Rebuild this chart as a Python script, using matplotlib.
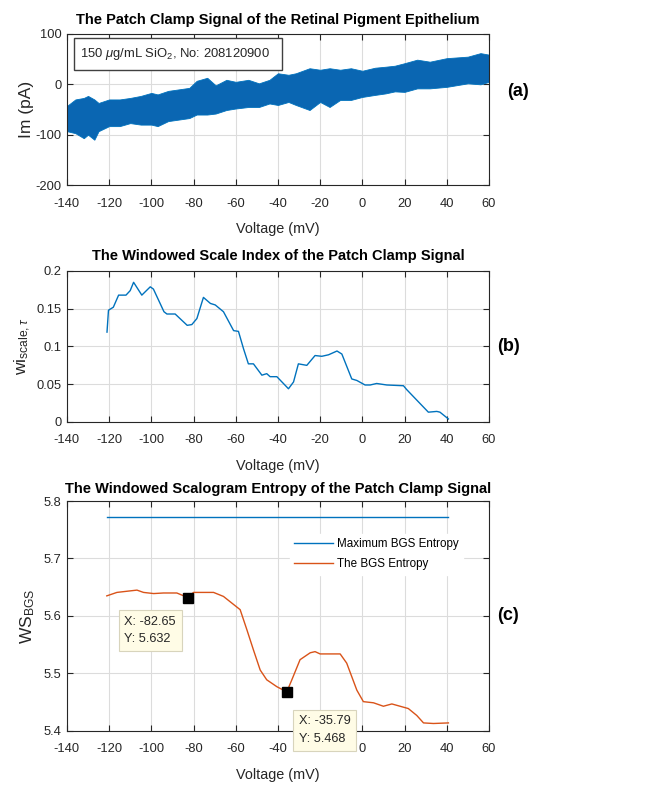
import numpy as np
import matplotlib
matplotlib.use('Agg')
import matplotlib.pyplot as plt
from matplotlib import font_manager
from matplotlib.patches import Rectangle

# narrow face if present, otherwise plain Liberation Sans at reduced size
try:
    font_manager.findfont('Liberation Sans Narrow', fallback_to_default=False)
    face, k = 'Liberation Sans Narrow', 1 / 0.82
except ValueError:
    face, k = 'Liberation Sans', 1.0

plt.rcParams['font.family'] = [face, 'Liberation Sans', 'DejaVu Sans']
plt.rcParams['axes.unicode_minus'] = False
plt.rcParams['mathtext.fontset'] = 'custom'
plt.rcParams['mathtext.rm'] = face
plt.rcParams['mathtext.it'] = face + ':italic'
plt.rcParams['mathtext.bf'] = face + ':bold'

# (a) patch clamp current, upper / lower envelope of the recorded trace
volt_a = [-140, -136, -132, -130, -127, -125, -120, -115, -110, -105, -100, -97,
          -92, -87, -82, -78.5, -73.5, -69.5, -64.4, -60, -54, -49, -44, -40,
          -35, -31.5, -25, -20, -15.5, -10.5, -5.4, 0, 6, 11, 15.4, 20, 26, 32,
          40, 50, 56, 60]
im_upper = [-43, -30, -27, -23, -30, -37, -30, -30, -27, -23, -17, -20,
            -13, -10, -7, 7, 13, -2, 9, 5, 9, 2, 9, 22,
            19, 22, 32, 29, 32, 29, 32, 27, 33, 35, 37, 42, 49, 45,
            52, 55, 62, 59]
im_lower = [-93, -97, -107, -100, -110, -93, -83, -83, -77, -80, -80, -83,
            -73, -70, -67, -60, -60, -58, -51, -48, -45, -45, -38, -41,
            -35, -41, -51, -35, -45, -31, -31, -25, -21, -18, -14, -15, -8, -8,
            -5, 2, 0, 5]

# (b) windowed scale index
volt_b = [-121, -120.3, -118, -115.5, -112, -110, -108.4, -104.5, -100.5, -99,
          -94, -92.6, -88.7, -83, -80.8, -78.4, -75.3, -72, -69.7, -65.8, -61,
          -58.7, -56.3, -54, -51.6, -47.6, -45.3, -43.7, -40.5, -37.4, -35,
          -32.6, -30.3, -26.3, -22.4, -19.2, -16, -12, -9.7, -5, -2.6, 1.3,
          3.7, 6.8, 11.6, 19.5, 21, 25.8, 31.3, 35.3, 36.8, 40.8]
wi_scale = [0.119, 0.148, 0.152, 0.168, 0.168, 0.174, 0.185, 0.168, 0.179, 0.176,
            0.146, 0.143, 0.143, 0.128, 0.129, 0.137, 0.165, 0.157, 0.155, 0.146, 0.121,
            0.120, 0.097, 0.077, 0.077, 0.062, 0.064, 0.060, 0.060, 0.051, 0.044,
            0.053, 0.077, 0.075, 0.088, 0.087, 0.089, 0.094, 0.090, 0.057, 0.055, 0.049,
            0.049, 0.051, 0.049, 0.048, 0.043, 0.029, 0.013, 0.014, 0.013, 0.004]

# (c) windowed scalogram entropy
volt_c = [-121.1, -116.3, -111.6, -106.8, -103.7, -98.9, -94.2, -87.9, -82.65,
          -80.0, -70.5, -65.8, -61.0, -57.9, -54.7, -51.6, -48.4, -45.3, -40.5,
          -35.79, -33.4, -29.5, -24.7, -22.4, -20.0, -15.3, -10.5, -7.4, -2.6,
          0.5, 5.3, 10.0, 14.0, 17.9, 21.8, 25.8, 29.0, 33.7, 40.8]
ws_bgs = [5.635, 5.641, 5.643, 5.645, 5.641, 5.639, 5.640, 5.640, 5.632,
          5.641, 5.641, 5.634, 5.620, 5.611, 5.576, 5.541, 5.506, 5.489, 5.477,
          5.468, 5.489, 5.524, 5.536, 5.538, 5.534, 5.534, 5.534, 5.518, 5.471,
          5.451, 5.449, 5.443, 5.447, 5.443, 5.439, 5.427, 5.414, 5.413, 5.414]
ws_max = 5.773
tips = [(-82.65, 5.632), (-35.79, 5.468)]

xticks = np.arange(-140, 61, 20)
blue = '#0072BD'
orange = '#D95319'
axcol = '#262626'

fs_tick = 9.3 * k
fs_xlab = 10.4 * k
fs_title = 10.5 * k
fs_ylab = 12.5


def style_axes(ax, yticks, ylim):
    ax.set_xlim(-140, 60)
    ax.set_ylim(*ylim)
    ax.set_xticks(xticks)
    ax.set_yticks(yticks)
    ax.grid(True, color='#DCDCDC', linewidth=0.8)
    ax.set_axisbelow(True)
    ax.tick_params(direction='in', length=4, top=True, right=True,
                   labelsize=fs_tick, colors=axcol, width=0.8)
    ax.tick_params(axis='x', pad=9)
    ax.tick_params(axis='y', pad=4)
    for s in ax.spines.values():
        s.set_color(axcol)
        s.set_linewidth(0.8)
    ax.set_xlabel('Voltage (mV)', fontsize=fs_xlab, color=axcol, labelpad=9)


fig = plt.figure(figsize=(6.56, 7.87), dpi=100)
ax_a = fig.add_axes([0.102, 0.7649, 0.6433, 0.1919])
ax_b = fig.add_axes([0.102, 0.4638, 0.6433, 0.1919])
ax_c = fig.add_axes([0.102, 0.0712, 0.6433, 0.2922])

# --- (a)
style_axes(ax_a, [-200, -100, 0, 100], (-200, 100))
ax_a.fill_between(volt_a, im_lower, im_upper, color='#0A66B2', linewidth=0.6,
                  edgecolor=blue)
ax_a.set_title('The Patch Clamp Signal of the Retinal Pigment Epithelium',
               fontsize=fs_title, fontweight='bold', pad=7)
ax_a.set_ylabel('Im (pA)', fontsize=fs_ylab, color=axcol,
                family='Liberation Sans')
ax_a.yaxis.set_label_coords(-0.078, 0.5)
ax_a.add_patch(Rectangle((0.017, 0.761), 0.493, 0.212, transform=ax_a.transAxes,
                         facecolor='white', edgecolor='#404040', linewidth=1.0,
                         zorder=5))
ax_a.text(0.03, 0.867, r'150 $\mu$g/mL SiO$_2$, No: 208120900',
          transform=ax_a.transAxes, fontsize=9.4 * k, va='center', color=axcol,
          zorder=6)
ax_a.text(1.043, 0.62, '(a)', transform=ax_a.transAxes, fontsize=13 * k,
          fontweight='bold', va='center')

# --- (b)
style_axes(ax_b, [0, 0.05, 0.1, 0.15, 0.2], (0, 0.2))
ax_b.yaxis.set_major_formatter(matplotlib.ticker.FuncFormatter(
    lambda v, p: ('%g' % v)))
ax_b.plot(volt_b, wi_scale, color=blue, linewidth=1.0)
ax_b.set_title('The Windowed Scale Index of the Patch Clamp Signal',
               fontsize=fs_title, fontweight='bold', pad=8)
ax_b.set_ylabel(r'wi$_{\mathregular{scale},\tau}$', fontsize=fs_ylab,
                color=axcol, family='Liberation Sans')
ax_b.yaxis.set_label_coords(-0.08, 0.5)
ax_b.text(1.019, 0.5, '(b)', transform=ax_b.transAxes, fontsize=13 * k,
          fontweight='bold', va='center')

# --- (c)
style_axes(ax_c, [5.4, 5.5, 5.6, 5.7, 5.8], (5.4, 5.8))
ax_c.plot([volt_c[0], volt_c[-1]], [ws_max, ws_max], color=blue, linewidth=1.0,
          label='Maximum BGS Entropy')
ax_c.plot(volt_c, ws_bgs, color=orange, linewidth=1.0, label='The BGS Entropy')
ax_c.set_title('The Windowed Scalogram Entropy of the Patch Clamp Signal',
               fontsize=fs_title, fontweight='bold', pad=6)
ax_c.set_ylabel(r'WS$_{\mathregular{BGS}}$', fontsize=fs_ylab, color=axcol,
                family='Liberation Sans')
ax_c.yaxis.set_label_coords(-0.07, 0.5)
ax_c.legend(loc='upper left', bbox_to_anchor=(0.528, 0.858), borderaxespad=0,
            fontsize=8.4 * k, frameon=True, edgecolor='white', fancybox=False,
            framealpha=1.0, handlelength=3.3, handletextpad=0.35,
            labelspacing=0.7)
ax_c.text(1.019, 0.5, '(c)', transform=ax_c.transAxes, fontsize=13 * k,
          fontweight='bold', va='center')

offsets = [((-8.5, -13), 'right'), ((8.5, -17), 'left')]
for (tx, ty), ((dx, dy), ha) in zip(tips, offsets):
    ax_c.plot(tx, ty, 's', color='black', markersize=6.5, zorder=8)
    ax_c.annotate('X: %.2f\nY: %.3f' % (tx, ty), xy=(tx, ty), xytext=(dx, dy),
                  textcoords='offset points', ha=ha, va='top',
                  multialignment='left', fontsize=9.2 * k,
                  color=axcol, linespacing=1.6, annotation_clip=False, zorder=9,
                  bbox=dict(boxstyle='square,pad=0.45', facecolor='#FFFCE6',
                            edgecolor='#D8D4BC', linewidth=0.8))

fig.savefig('out.png', dpi=100)
